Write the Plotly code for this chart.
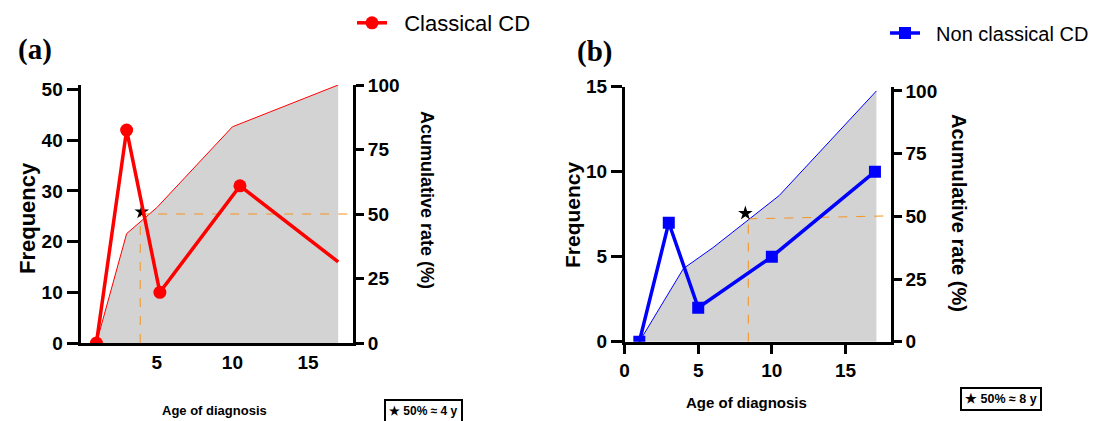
import plotly.graph_objects as go

W, H = 1096, 421

# ---------------- data ----------------
# Panel (a): Classical CD
age_a = [1, 3, 5.2, 10.5, 17]
freq_a = [0, 42, 10, 31, 16]
cum_age_a = [1, 3, 5, 10, 17]
cum_rate_a = [0, 42.4, 52.5, 83.8, 100]
star_a_x, star_a_y = [4.0], [50.8]
guide_a_vx, guide_a_vy = [3.9, 3.9], [0, 50]
guide_a_hx, guide_a_hy = [3.9, 18], [50, 50]

# Panel (b): Non classical CD
age_b = [1, 3, 5, 10, 17]
freq_b = [0, 7, 2, 5, 10]
cum_age_b = [1, 4, 6, 10.5, 17.1]
cum_rate_b = [0, 29.2, 37.5, 58.3, 100]
star_b_x, star_b_y = [8.2], [51.2]
guide_b_vx, guide_b_vy = [8.4, 8.4], [0, 49.0]
guide_b_hx, guide_b_hy = [8.4, 18.09], [49.0, 50.2]

freq_ticks_a = [0, 10, 20, 30, 40, 50]
freq_ticks_b = [0, 5, 10, 15]
rate_ticks = [0, 25, 50, 75, 100]
age_ticks_a = [5, 10, 15]
age_ticks_b = [0, 5, 10, 15]

RED = "#ff0000"
BLUE = "#0000ff"
GREY = "#d3d3d3"
ORANGE = "#f7931e"
FONT = "Liberation Sans"


def px(x):
    return x / W


def py(y):
    return 1 - y / H


fig = go.Figure()

# ---- panel a: cumulative (under) ----
fig.add_trace(go.Scatter(x=cum_age_a, y=cum_rate_a, mode="lines", fill="tozeroy",
                         fillcolor=GREY, line=dict(color=RED, width=1),
                         xaxis="x", yaxis="y", showlegend=False))
fig.add_trace(go.Scatter(x=guide_a_vx, y=guide_a_vy, mode="lines",
                         line=dict(color=ORANGE, width=1, dash="dash"),
                         xaxis="x", yaxis="y", showlegend=False))
fig.add_trace(go.Scatter(x=guide_a_hx, y=guide_a_hy, mode="lines",
                         line=dict(color=ORANGE, width=1, dash="dash"),
                         xaxis="x", yaxis="y", showlegend=False))
fig.add_trace(go.Scatter(x=star_a_x, y=star_a_y, mode="markers",
                         marker=dict(symbol="star", size=11, color="black", line=dict(width=0)),
                         xaxis="x", yaxis="y", showlegend=False))
# frequency on top
fig.add_trace(go.Scatter(x=age_a, y=freq_a, mode="lines+markers",
                         line=dict(color=RED, width=3.5),
                         marker=dict(symbol="circle", size=[13, 13, 13, 13, 0], color=RED,
                                     opacity=1, line=dict(width=0)),
                         xaxis="x", yaxis="y3", showlegend=False))
fig.add_trace(go.Scatter(x=[None], y=[None], mode="lines+markers", name="  Classical CD",
                         line=dict(color=RED, width=3.5),
                         marker=dict(symbol="circle", size=13, color=RED, opacity=1,
                                     line=dict(width=0)),
                         xaxis="x", yaxis="y3", legend="legend"))

# ---- panel b ----
fig.add_trace(go.Scatter(x=cum_age_b, y=cum_rate_b, mode="lines", fill="tozeroy",
                         fillcolor=GREY, line=dict(color=BLUE, width=1),
                         xaxis="x2", yaxis="y2", showlegend=False))
fig.add_trace(go.Scatter(x=guide_b_vx, y=guide_b_vy, mode="lines",
                         line=dict(color=ORANGE, width=1, dash="dash"),
                         xaxis="x2", yaxis="y2", showlegend=False))
fig.add_trace(go.Scatter(x=guide_b_hx, y=guide_b_hy, mode="lines",
                         line=dict(color=ORANGE, width=1, dash="dash"),
                         xaxis="x2", yaxis="y2", showlegend=False))
fig.add_trace(go.Scatter(x=star_b_x, y=star_b_y, mode="markers",
                         marker=dict(symbol="star", size=11, color="black", line=dict(width=0)),
                         xaxis="x2", yaxis="y2", showlegend=False))
fig.add_trace(go.Scatter(x=age_b, y=freq_b, mode="lines+markers", name="  Non classical CD",
                         line=dict(color=BLUE, width=3.5),
                         marker=dict(symbol="square", size=12, color=BLUE, opacity=1,
                                     line=dict(width=0)),
                         xaxis="x2", yaxis="y4", legend="legend2"))

tickfont = dict(family=FONT, size=19, color="black", weight="bold")
axis_common = dict(showline=True, linecolor="black", linewidth=2.5, showgrid=False,
                   zeroline=False, tickfont=tickfont, tickcolor="black", tickwidth=2.5,
                   automargin=False)

dom_ax = [px(81.3), px(353.3)]
dom_ay = [py(343), py(85)]
dom_bx = [px(624.6), px(891)]
dom_by = [py(341.7), py(86.7)]

fig.update_layout(
    template="none",
    width=W, height=H,
    margin=dict(l=0, r=0, t=0, b=0, pad=0, autoexpand=False),
    paper_bgcolor="white", plot_bgcolor="rgba(0,0,0,0)",
    xaxis=dict(domain=dom_ax, range=[0, 18], tickvals=age_ticks_a, ticks="",
               anchor="y", **axis_common),
    yaxis=dict(domain=dom_ay, range=[0, 100], tickvals=rate_ticks, side="right",
               anchor="x", ticks="outside", ticklen=8, **axis_common),
    yaxis3=dict(range=[0, 50.9], tickvals=freq_ticks_a, side="left", overlaying="y",
                anchor="x", ticks="outside", ticklen=12, **axis_common),
    xaxis2=dict(domain=dom_bx, range=[0, 18.09], tickvals=age_ticks_b, ticks="outside",
                ticklen=10, anchor="y2", **axis_common),
    yaxis2=dict(domain=dom_by, range=[0, 101.7], tickvals=rate_ticks, side="right",
                anchor="x2", ticks="outside", ticklen=8, **axis_common),
    yaxis4=dict(range=[0, 15], tickvals=freq_ticks_b, side="left", overlaying="y2",
                anchor="x2", ticks="outside", ticklen=11, **axis_common),
    legend=dict(x=px(536), y=py(23), xanchor="right", yanchor="middle",
                font=dict(family=FONT, size=22, color="black"), bgcolor="rgba(0,0,0,0)"),
    legend2=dict(x=px(1094), y=py(33), xanchor="right", yanchor="middle",
                 font=dict(family=FONT, size=20, color="black"), bgcolor="rgba(0,0,0,0)"),
)

anns = []


def ann(text, x, y, size, angle=0, family=FONT, weight="bold", **kw):
    anns.append(dict(text=text, x=px(x), y=py(y), xref="paper", yref="paper",
                     xanchor="center", yanchor="middle", showarrow=False, textangle=angle,
                     font=dict(family=family, size=size, color="black", weight=weight), **kw))


ann("(a)", 35, 50, 29, family="Liberation Serif")
ann("(b)", 594, 52, 29, family="Liberation Serif")
ann("Frequency", 28, 218, 22, angle=-90)
ann("Frequency", 572, 215, 21, angle=-90)
ann("Acumulative rate (%)", 427, 200, 18, angle=90)
ann("Acumulative rate (%)", 959, 213, 20, angle=90)
ann("Age of diagnosis", 214, 410, 13)
ann("Age of diagnosis", 746, 402, 15)
ann("★ 50% ≈ 4 y", 423, 411, 12, bordercolor="black", borderwidth=2, borderpad=3)
ann("★ 50% ≈ 8 y", 1001, 399, 12.5, bordercolor="black", borderwidth=2, borderpad=3)

fig.update_layout(annotations=anns)
fig.write_html("out.html")
